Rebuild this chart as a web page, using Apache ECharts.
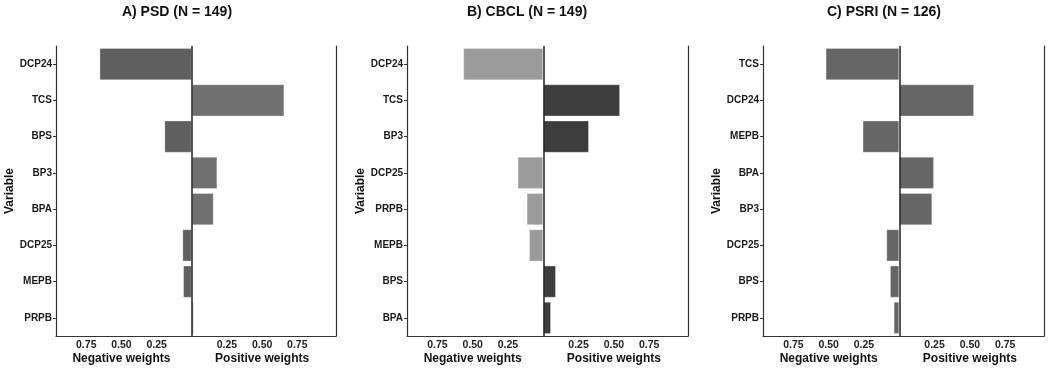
<!DOCTYPE html>
<html>
<head>
<meta charset="utf-8">
<script src="https://cdn.jsdelivr.net/npm/echarts@6/dist/echarts.min.js"></script>
<style>
  html, body { margin: 0; padding: 0; background: #fff; }
  #chart { width: 1049px; height: 372px; }
</style>
</head>
<body>
<div id="chart"></div>
<script>
// ---- Data ----
const titles = ['A) PSD (N = 149)', 'B) CBCL (N = 149)', 'C) PSRI (N = 126)'];

const catsA = ['DCP24', 'TCS', 'BPS', 'BP3', 'BPA', 'DCP25', 'MEPB', 'PRPB'];
const valsA = [-0.656, 0.658, -0.195, 0.182, 0.156, -0.067, -0.062, 0.014];

const catsB = ['DCP24', 'TCS', 'BP3', 'DCP25', 'PRPB', 'MEPB', 'BPS', 'BPA'];
const valsB = [-0.567, 0.544, 0.324, -0.182, -0.118, -0.101, 0.090, 0.055];

const catsC = ['TCS', 'DCP24', 'MEPB', 'BPA', 'BP3', 'DCP25', 'BPS', 'PRPB'];
const valsC = [-0.522, 0.530, -0.260, 0.246, 0.234, -0.092, -0.066, -0.040];

const tickValues = [-0.75, -0.5, -0.25, 0.25, 0.5, 0.75];
const sideNamePositions = [-0.5, 0.5];
const negName = 'Negative weights';
const posName = 'Positive weights';
const yName = 'Variable';

// ---- Styles / layout ----
const FONT = 'Liberation Sans, Arial, sans-serif';
const panels = [
  { cats: catsA, vals: valsA, left: 56, width: 280, titleX: 172, neg: '#5f5f5f', pos: '#707070' },
  { cats: catsB, vals: valsB, left: 407, width: 281, titleX: 522, neg: '#9b9b9b', pos: '#3d3d3d' },
  { cats: catsC, vals: valsC, left: 763, width: 281, titleX: 879, neg: '#666666', pos: '#666666' }
];
const TOP = 46, HEIGHT = 290;
const XMIN = -0.965, XMAX = 1.025;

const option = {
  animation: false,
  backgroundColor: '#ffffff',
  textStyle: { fontFamily: FONT },
  title: [], grid: [], xAxis: [], yAxis: [], series: []
};

panels.forEach((p, i) => {
  option.title.push({
    text: titles[i],
    left: p.titleX,
    top: 0,
    textAlign: 'center',
    textStyle: { fontFamily: FONT, fontWeight: 'bold', fontSize: 14, color: '#111' }
  });
  option.grid.push({ left: p.left, top: TOP, width: p.width, height: HEIGHT, containLabel: false });
  // main value axis with tick labels
  option.xAxis.push({
    type: 'value', gridIndex: i, min: XMIN, max: XMAX,
    splitLine: { show: false },
    axisLine: { show: true, onZero: false, lineStyle: { color: '#333', width: 1.2 } },
    axisTick: { show: false },
    axisLabel: {
      show: true,
      customValues: tickValues,
      hideOverlap: false,
      margin: 4,
      fontFamily: FONT, fontWeight: 'bold', fontSize: 10.5, color: '#222',
      formatter: function (v) { return Math.abs(v).toFixed(2); }
    }
  });
  // second axis (labels only) for the side names
  option.xAxis.push({
    type: 'value', gridIndex: i, min: XMIN, max: XMAX, position: 'bottom',
    splitLine: { show: false },
    axisLine: { show: false, onZero: false },
    axisTick: { show: false },
    axisLabel: {
      show: true,
      customValues: sideNamePositions,
      hideOverlap: false,
      margin: 17,
      fontFamily: FONT, fontWeight: 'bold', fontSize: 12, color: '#111',
      formatter: function (v) { return v < 0 ? negName : posName; }
    }
  });
  option.yAxis.push({
    type: 'category', gridIndex: i, data: p.cats, inverse: true,
    name: yName, nameLocation: 'middle', nameGap: 35,
    nameTextStyle: { fontFamily: FONT, fontWeight: 'bold', fontSize: 12, color: '#111' },
    axisLine: { show: true, onZero: false, lineStyle: { color: '#333', width: 1.2 } },
    axisTick: { show: true, alignWithLabel: true, length: 3, lineStyle: { color: '#333' } },
    axisLabel: { fontFamily: FONT, fontWeight: 'bold', fontSize: 10, color: '#1a1a1a', margin: 4 },
    splitLine: { show: false }
  });
  option.yAxis.push({
    type: 'category', gridIndex: i, data: p.cats, inverse: true, position: 'right',
    axisLine: { show: true, onZero: false, lineStyle: { color: '#333', width: 1.2 } },
    axisTick: { show: false }, axisLabel: { show: false }, splitLine: { show: false }
  });
  option.series.push({
    type: 'bar',
    xAxisIndex: i * 2,
    yAxisIndex: i * 2,
    data: p.vals,
    barWidth: '89%',
    itemStyle: {
      color: function (params) { return params.value < 0 ? p.neg : p.pos; },
      borderColor: 'rgba(255,255,255,0.3)',
      borderWidth: 1
    },
    markLine: {
      silent: true,
      symbol: ['none', 'none'],
      label: { show: false },
      lineStyle: { color: '#222', width: 1.5, type: 'solid' },
      data: [{ xAxis: 0 }]
    }
  });
});

const chart = echarts.init(document.getElementById('chart'), null, { renderer: 'canvas' });
chart.setOption(option);
</script>
</body>
</html>
